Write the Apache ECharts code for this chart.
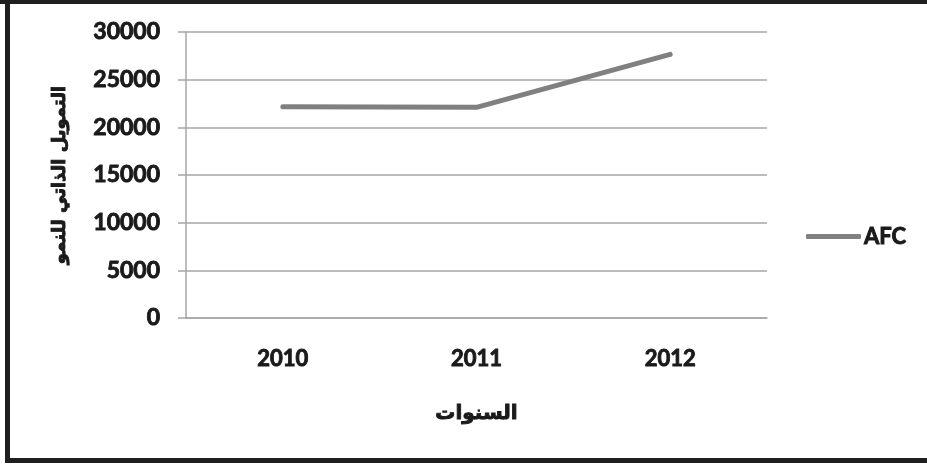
<!DOCTYPE html>
<html>
<head>
<meta charset="utf-8">
<script src="https://cdn.jsdelivr.net/npm/echarts@6/dist/echarts.min.js"></script>
<style>
  html, body { margin: 0; padding: 0; background: #fff; }
  #chart { width: 927px; height: 465px; }
</style>
</head>
<body>
<div id="chart"></div>
<script>
// Years on the category axis and the AFC series values
const years = ['2010', '2011', '2012'];
const afc = [22150, 22100, 27650];
const seriesName = 'AFC';
const xTitle = 'السنوات';
const yTitle = 'التمويل الذاتي للنمو';

const gridGray = '#a6a6a6';
const lineGray = '#808080';
const ink = '#1a1a1a';
const numFont = 'Lato';
const arFont = 'DejaVu Sans';

// Heavy text: bold face plus a thin outline in the same ink
const heavy = (size, family) => ({
  fontFamily: family, fontWeight: 'bold', fontSize: size, color: ink,
  textBorderColor: ink, textBorderWidth: 0.9
});

const chart = echarts.init(document.getElementById('chart'), null, { renderer: 'canvas' });
chart.setOption({
  backgroundColor: '#ffffff',
  animation: false,
  grid: { left: 186, right: 160, top: 32, bottom: 147 },
  legend: {
    data: [{ name: seriesName, icon: 'roundRect' }],
    left: 801,
    top: 220,
    itemWidth: 55,
    itemHeight: 5,
    itemStyle: { color: lineGray, borderWidth: 0 },
    textStyle: Object.assign(heavy(22, numFont), { padding: [0, 0, 0, -2] })
  },
  xAxis: {
    type: 'category',
    data: years,
    boundaryGap: true,
    name: xTitle,
    nameLocation: 'middle',
    nameGap: 86,
    nameTextStyle: heavy(20, arFont),
    axisLine: { show: true, lineStyle: { color: gridGray, width: 1.5 } },
    axisTick: { show: false },
    axisLabel: Object.assign({ margin: 30 }, heavy(22, numFont))
  },
  yAxis: {
    type: 'value',
    min: 0,
    max: 30000,
    interval: 5000,
    name: yTitle,
    nameLocation: 'middle',
    nameGap: 117,
    nameRotate: 90,
    nameTextStyle: heavy(18, arFont),
    axisLine: { show: true, lineStyle: { color: gridGray, width: 1.5 } },
    axisTick: { show: true, length: 8, lineStyle: { color: gridGray, width: 1.5 } },
    axisLabel: Object.assign({ margin: 26, formatter: v => String(v) }, heavy(23, numFont)),
    splitLine: { show: true, lineStyle: { color: gridGray, width: 1.5 } }
  },
  series: [{
    name: seriesName,
    type: 'line',
    data: afc,
    symbol: 'none',
    lineStyle: { width: 5, color: lineGray, cap: 'round', join: 'round' },
    itemStyle: { color: lineGray }
  }],
  graphic: [
    // Dark frame around the chart area
    { type: 'rect', shape: { x: 0, y: 0, width: 927, height: 4 }, style: { fill: '#1f1f1f' }, silent: true },
    { type: 'rect', shape: { x: 5, y: 0, width: 5, height: 463 }, style: { fill: '#1f1f1f' }, silent: true },
    { type: 'rect', shape: { x: 5, y: 458, width: 922, height: 5 }, style: { fill: '#1f1f1f' }, silent: true }
  ]
});
</script>
</body>
</html>
